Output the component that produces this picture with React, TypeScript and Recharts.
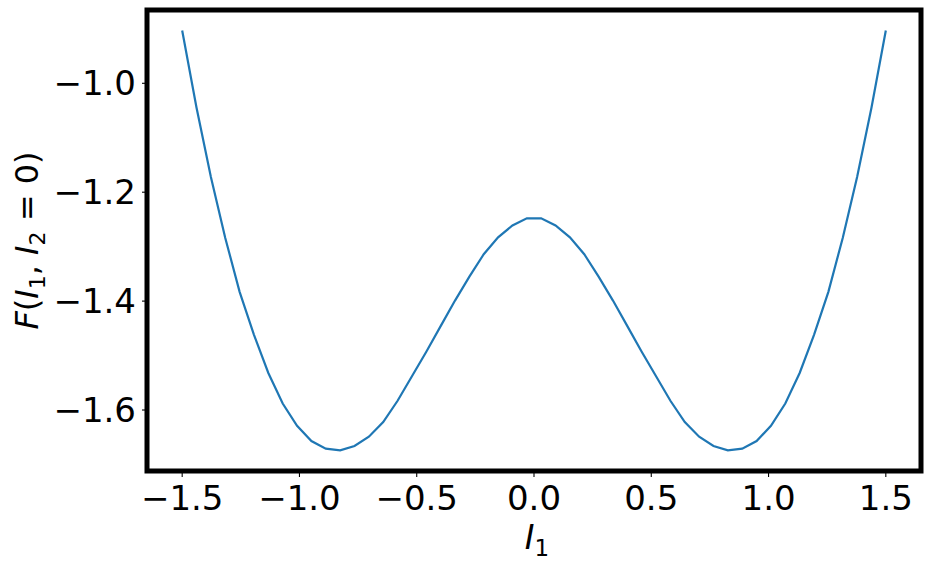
import React from 'react';
import { LineChart, Line, XAxis, YAxis, ReferenceArea } from 'recharts';

// I1 sample positions (50 evenly spaced points between -1.5 and 1.5)
const i1Values = [
  -1.5, -1.4388, -1.3776, -1.3163, -1.2551, -1.1939, -1.1327, -1.0714, -1.0102, -0.949,
  -0.8878, -0.8265, -0.7653, -0.7041, -0.6429, -0.5816, -0.5204, -0.4592, -0.398, -0.3367,
  -0.2755, -0.2143, -0.1531, -0.0918, -0.0306, 0.0306, 0.0918, 0.1531, 0.2143, 0.2755,
  0.3367, 0.398, 0.4592, 0.5204, 0.5816, 0.6429, 0.7041, 0.7653, 0.8265, 0.8878,
  0.949, 1.0102, 1.0714, 1.1327, 1.1939, 1.2551, 1.3163, 1.3776, 1.4388, 1.5,
];

// F(I1, I2 = 0)
const fValues = [
  -0.903, -1.045, -1.172, -1.284, -1.383, -1.462, -1.532, -1.588, -1.629, -1.657,
  -1.671, -1.674, -1.666, -1.649, -1.622, -1.583, -1.538, -1.493, -1.446, -1.399,
  -1.355, -1.314, -1.283, -1.261, -1.248, -1.248, -1.261, -1.283, -1.314, -1.355,
  -1.399, -1.446, -1.493, -1.538, -1.583, -1.622, -1.649, -1.666, -1.674, -1.671,
  -1.657, -1.629, -1.588, -1.532, -1.462, -1.383, -1.284, -1.172, -1.045, -0.903,
];

const xTicks = [-1.5, -1.0, -0.5, 0.0, 0.5, 1.0, 1.5];
const yTicks = [-1.6, -1.4, -1.2, -1.0];

const xDomain = [-1.65, 1.65];
const yDomain = [-1.712, -0.8654];

const data = i1Values.map((x, i) => ({ x, f: fValues[i] }));

const FONT = '"DejaVu Sans", sans-serif';
const fmt = (v: number) => (v < 0 ? '\u2212' : '') + Math.abs(v).toFixed(1);

const XLabel = ({ viewBox }: any) => {
  const cx = viewBox.x + viewBox.width / 2 + 3;
  return (
    <text x={cx} y={549} textAnchor="middle" fontFamily={FONT} fontSize={33} fill="#000">
      <tspan fontStyle="italic">I</tspan>
      <tspan fontSize={23} dy={7}>1</tspan>
    </text>
  );
};

const YLabel = ({ viewBox }: any) => {
  const cy = viewBox.y + viewBox.height / 2;
  const cx = 38;
  return (
    <text
      x={cx}
      y={cy}
      transform={`rotate(-90, ${cx}, ${cy})`}
      textAnchor="middle"
      fontFamily={FONT}
      fontSize={32}
      fill="#000"
    >
      <tspan fontStyle="italic">F</tspan>
      <tspan>(</tspan>
      <tspan fontStyle="italic">I</tspan>
      <tspan fontSize={22} dy={7}>1</tspan>
      <tspan dy={-7}>, </tspan>
      <tspan fontStyle="italic">I</tspan>
      <tspan fontSize={22} dy={7}>2</tspan>
      <tspan dy={-7}> = 0)</tspan>
    </text>
  );
};

const App = () => {
  return (
    <div style={{ position: 'absolute', left: 0, top: 0, background: '#fff' }}>
      <LineChart width={931} height={568} data={data} margin={{ top: 10, right: 10, left: 0, bottom: 0 }}>
        <XAxis
          dataKey="x"
          type="number"
          domain={xDomain}
          ticks={xTicks}
          allowDataOverflow
          axisLine={false}
          tickLine={{ stroke: '#000', strokeWidth: 1.1 }}
          tickSize={6}
          tickMargin={9}
          height={97}
          tickFormatter={fmt}
          tick={{ fill: '#000', fontSize: 34, fontFamily: FONT }}
          label={{ content: XLabel }}
        />
        <YAxis
          type="number"
          domain={yDomain}
          ticks={yTicks}
          allowDataOverflow
          axisLine={false}
          tickLine={{ stroke: '#000', strokeWidth: 1.1 }}
          tickSize={5}
          tickMargin={6}
          width={147}
          tickFormatter={fmt}
          tick={{ fill: '#000', fontSize: 34, fontFamily: FONT }}
          label={{ content: YLabel }}
        />
        <Line
          type="linear"
          dataKey="f"
          stroke="#1f77b4"
          strokeWidth={2.2}
          dot={false}
          isAnimationActive={false}
        />
        <ReferenceArea
          x1={xDomain[0]}
          x2={xDomain[1]}
          y1={yDomain[0]}
          y2={yDomain[1]}
          fill="none"
          fillOpacity={0}
          stroke="#000"
          strokeWidth={5}
          ifOverflow="visible"
        />
      </LineChart>
    </div>
  );
};

export default App;
